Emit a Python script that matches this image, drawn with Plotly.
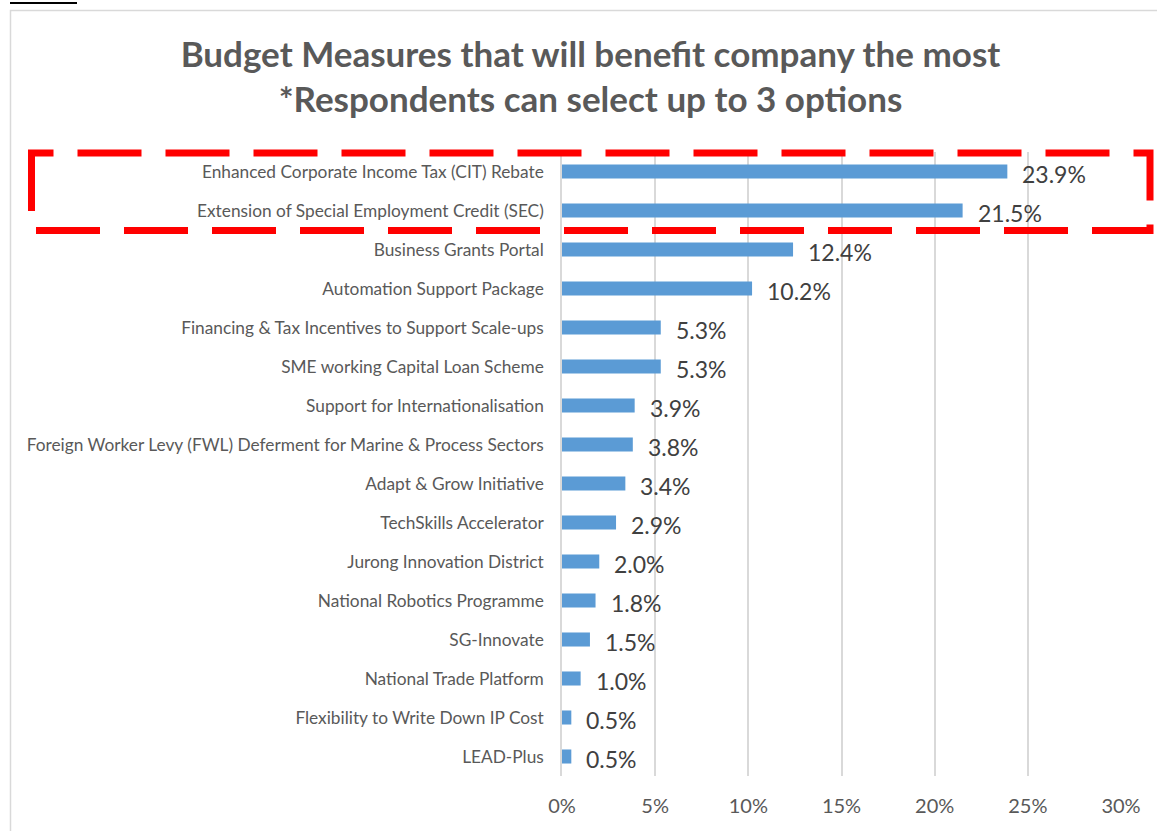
import plotly.graph_objects as go

# Survey results: share of respondents choosing each budget measure
measures = [
    "Enhanced Corporate Income Tax (CIT) Rebate",
    "Extension of Special Employment Credit (SEC)",
    "Business Grants Portal",
    "Automation Support Package",
    "Financing & Tax Incentives to Support Scale-ups",
    "SME working Capital Loan Scheme",
    "Support for Internationalisation",
    "Foreign Worker Levy (FWL) Deferment for Marine & Process Sectors",
    "Adapt & Grow Initiative",
    "TechSkills Accelerator",
    "Jurong Innovation District",
    "National Robotics Programme",
    "SG-Innovate",
    "National Trade Platform",
    "Flexibility to Write Down IP Cost",
    "LEAD-Plus",
]
shares = [23.9, 21.5, 12.4, 10.2, 5.3, 5.3, 3.9, 3.8, 3.4, 2.9, 2.0, 1.8, 1.5, 1.0, 0.5, 0.5]
tick_values = [0, 5, 10, 15, 20, 25, 30]
tick_labels = ["0%", "5%", "10%", "15%", "20%", "25%", "30%"]

W, H = 1157, 831
ML, MR, MT, MB = 562, 36, 152, 55
PW, PH = W - ML - MR, H - MT - MB


def px_x(px):
    return (px - ML) / PW


def px_y(py):
    return (H - MB - py) / PH


font_family = "Lato, 'Open Sans', sans-serif"

fig = go.Figure(
    go.Bar(
        x=shares,
        y=measures,
        orientation="h",
        marker=dict(color="#5B9BD5", line=dict(width=0)),
        hoverinfo="x+y",
    )
)

# value labels just past the end of each bar
for m, v in zip(measures, shares):
    fig.add_annotation(
        x=v, y=m, xref="x", yref="y",
        text=f"{v:.1f}%", showarrow=False,
        xanchor="left", yanchor="middle", xshift=13, yshift=-2,
        font=dict(size=23, color="#404040", family=font_family),
    )

# red dashed highlight around the top two measures, drawn as a path so
# the dash phase starts on the left edge just below the top corner
hl_left, hl_right, hl_top, hl_bottom = px_x(31.5), px_x(1150), px_y(153), px_y(230.5)
hl_start = px_y(195)
highlight_path = (
    f"M {hl_left},{hl_start} L {hl_left},{hl_top} L {hl_right},{hl_top} "
    f"L {hl_right},{hl_bottom} L {hl_left},{hl_bottom} Z"
)

shapes = [
    # outer chart frame
    dict(type="rect", xref="paper", yref="paper",
         x0=px_x(10.5), x1=px_x(1175), y0=px_y(10.5), y1=px_y(850),
         line=dict(color="#D9D9D9", width=1.5), fillcolor="rgba(0,0,0,0)", layer="below"),
    # underline of the figure caption above the chart
    dict(type="line", xref="paper", yref="paper",
         x0=px_x(10), x1=px_x(77), y0=px_y(3), y1=px_y(3),
         line=dict(color="#000000", width=2)),
    dict(type="path", xref="paper", yref="paper", path=highlight_path,
         line=dict(color="#FF0000", width=7, dash="64px,24px"),
         fillcolor="rgba(0,0,0,0)", layer="above"),
]

fig.update_layout(
    width=W, height=H,
    margin=dict(l=ML, r=MR, t=MT, b=MB, pad=0),
    paper_bgcolor="white", plot_bgcolor="white",
    bargap=0.64,
    showlegend=False,
    title=dict(
        text="Budget Measures that will benefit company the most<br>*Respondents can select up to 3 options",
        x=590.5 / W, xanchor="center",
        y=1 - 66.5 / H, yanchor="middle",
        font=dict(size=35, color="#595959", family=font_family, weight="bold"),
    ),
    xaxis=dict(
        range=[0, 30], tickvals=tick_values, ticktext=tick_labels,
        showgrid=True, gridcolor="#D9D9D9", gridwidth=1.5,
        zeroline=False, showline=False, ticks="",
        ticklabelstandoff=16,
        tickfont=dict(size=20, color="#595959", family=font_family),
        fixedrange=True,
    ),
    yaxis=dict(
        autorange="reversed",
        showgrid=False, zeroline=False,
        showline=True, linecolor="#D9D9D9", linewidth=1.5,
        ticks="", ticklabelstandoff=13,
        tickfont=dict(size=17.3, color="#595959", family=font_family),
        fixedrange=True,
    ),
    shapes=shapes,
)

fig.write_html("out.html")
